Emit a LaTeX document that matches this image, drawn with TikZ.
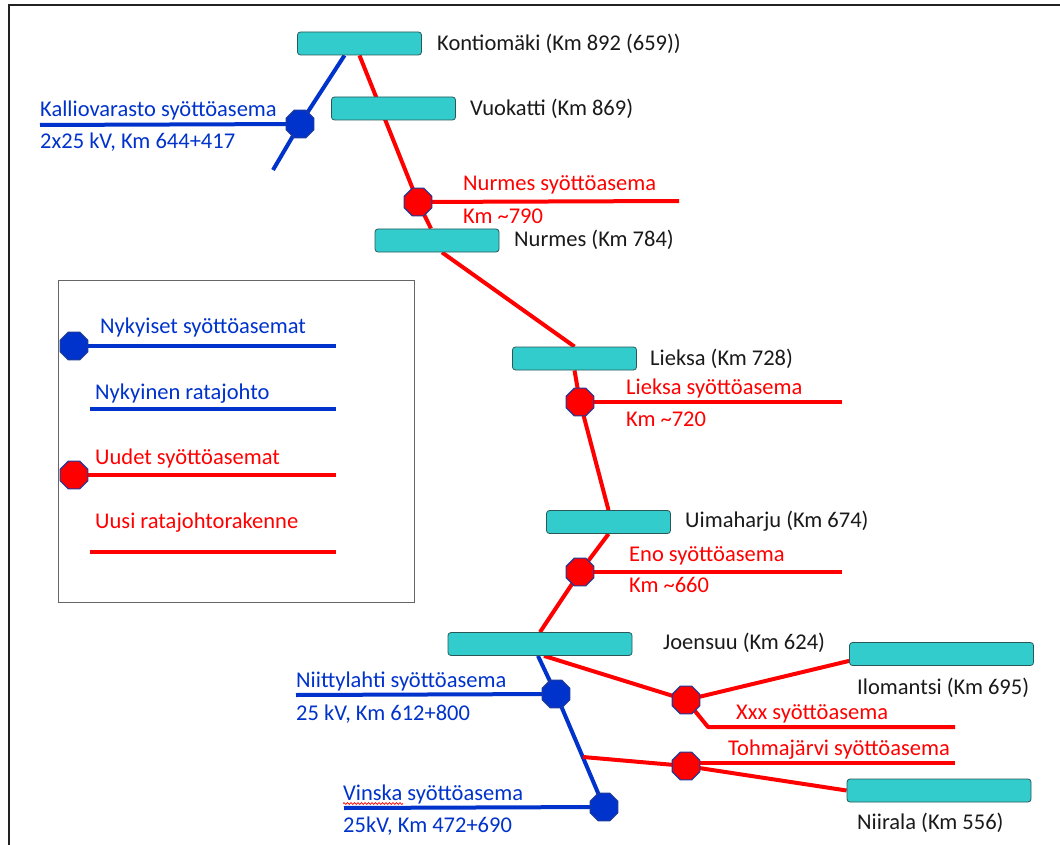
\documentclass[tikz,border=0pt]{standalone}
\usepackage{fontspec}
\setmainfont{Carlito}
\usetikzlibrary{shapes.geometric,calc,decorations.pathmorphing}
\pgfdeclarelayer{bg}
\pgfdeclarelayer{paper}
\pgfsetlayers{paper,bg,main}
\definecolor{tealbox}{HTML}{33CCCC}
\definecolor{tealedge}{HTML}{2A5858}
\definecolor{myred}{HTML}{FF0000}
\definecolor{myblue}{HTML}{0033CC}
\definecolor{ringblue}{HTML}{1F3A99}
\definecolor{txtblack}{HTML}{1A1A1A}
\definecolor{framegray}{HTML}{222222}
\begin{document}
\begin{tikzpicture}[x=1pt,y=-1pt,
  every node/.style={font=\fontsize{22.5}{27}\selectfont},
  station/.style={draw=tealedge, fill=tealbox, rounded corners=3pt, line width=0.8pt,
    minimum width=124pt, minimum height=23pt, inner sep=0pt},
  widestation/.style={station, minimum width=184pt},
  subred/.style={regular polygon, regular polygon sides=8, minimum size=30pt, inner sep=0pt,
    fill=myred, draw=ringblue, line width=1.2pt},
  subblue/.style={subred, fill=myblue},
  redline/.style={draw=myred, line width=4pt, line join=round},
  blueline/.style={draw=myblue, line width=4pt, line join=round},
  lbl/.style={anchor=base west, inner sep=0pt},
  blk/.style={lbl, text=txtblack},
  bluetxt/.style={lbl, text=myblue},
  redtxt/.style={lbl, text=myred}
]
\useasboundingbox (0,0) rectangle (1060,845);
\begin{pgfonlayer}{paper}
  \fill[white] (0,0) rectangle (1060,845);
\end{pgfonlayer}
\draw[line width=2pt, color=framegray] (8.5,845) -- (8.5,5.5) -- (1060,5.5);

% stations
\node[station] (kont) at (359.5,43.5) {};
\node[station] (vuok) at (393.5,108.5) {};
\node[station] (nurm) at (437,240.5) {};
\node[station] (lieksa) at (574.5,358.5) {};
\node[station] (uima) at (608.5,522) {};
\node[widestation] (joen) at (540,644) {};
\node[widestation] (ilom) at (941.5,654) {};
\node[widestation] (niir) at (939,790.5) {};

% substations
\node[subblue] (kall) at (300,124) {};
\node[subred] (nsub) at (418,202) {};
\node[subred] (lsub) at (580,402) {};
\node[subred] (esub) at (580,572) {};
\node[subblue] (niit) at (556,694) {};
\node[subblue] (vins) at (604,807) {};
\node[subred] (xsub) at (686,700) {};
\node[subred] (tsub) at (686,766) {};

% free ends
\coordinate (kalltail) at (273,170);
\coordinate (kallend) at (40,125);
\coordinate (nend) at (679,201);
\coordinate (lend) at (842,402);
\coordinate (eend) at (842,572);
\coordinate (niitend) at (296,695);
\coordinate (vinsend) at (344,808);
\coordinate (xbend) at (708,727);
\coordinate (xend) at (955,727);
\coordinate (tstart) at (583,757);
\coordinate (tend) at (955,763);

\begin{pgfonlayer}{bg}
  \draw[redline] (kont.south) -- (nsub.center) -- ($(nurm.north)+(-6,0)$);
  \draw[redline] ($(nurm.south)+(5,0)$) -- (lieksa.north);
  \draw[redline] (lieksa.south) -- (lsub.center) -- (uima.north);
  \draw[redline] (uima.south) -- (esub.center) -- (joen.north);
  \draw[redline] (nsub.center) -- (nend);
  \draw[redline] (lsub.center) -- (lend);
  \draw[redline] (esub.center) -- (eend);
  \draw[blueline] ($(kont.south)+(-15,0)$) -- (kall.center) -- (kalltail);
  \draw[blueline] (kall.center) -- (kallend);
  \draw[blueline] ($(joen.south)+(-2,0)$) -- (niit.center) -- (vins.center);
  \draw[blueline] (niit.center) -- (niitend);
  \draw[blueline] (vins.center) -- (vinsend);
  \draw[redline] ($(joen.south)+(4,0)$) -- (xsub.center) -- ($(ilom.south west)+(0,-5)$);
  \draw[redline] (xsub.center) -- (xbend) -- (xend);
  \draw[redline] (tstart) -- (tsub.center) -- (niir.west);
  \draw[redline] ($(tsub.center)+(0,-3)$) -- (tend);
\end{pgfonlayer}

% station labels
\node[blk] (tkont) at (437,50.5) {Kontiomäki (Km 892 (659))};
\node[blk] (tvuok) at (470,116) {Vuokatti (Km 869)};
\node[blk] (tnurm) at (514,247) {Nurmes (Km 784)};
\node[blk] (tlieksa) at (650,365) {Lieksa (Km 728)};
\node[blk] (tuima) at (685,527.5) {Uimaharju (Km 674)};
\node[blk] (tjoen) at (663,649) {Joensuu (Km 624)};
\node[blk] (tilom) at (857,694) {Ilomantsi (Km 695)};
\node[blk] (tniir) at (857,829) {Niirala (Km 556)};

% substation labels
\node[bluetxt] (tkall1) at (40,116.5) {Kalliovarasto syöttöasema};
\node[bluetxt] (tkall2) at (40,149) {2x25 kV, Km 644+417};
\node[redtxt] (tnsub1) at (463,191) {Nurmes syöttöasema};
\node[redtxt] (tnsub2) at (463,223) {Km \textasciitilde790};
\node[redtxt] (tlsub1) at (626,394) {Lieksa syöttöasema};
\node[redtxt] (tlsub2) at (626,426) {Km \textasciitilde720};
\node[redtxt] (tesub1) at (629,561) {Eno syöttöasema};
\node[redtxt] (tesub2) at (629,592) {Km \textasciitilde660};
\node[bluetxt] (tniit1) at (296,687) {Niittylahti syöttöasema};
\node[bluetxt] (tniit2) at (296,720) {25 kV, Km 612+800};
\node[bluetxt] (tvins1) at (343,800) {Vinska syöttöasema};
\node[bluetxt] (tvins2) at (343,832) {25kV, Km 472+690};
\node[redtxt] (txsub) at (736,719) {Xxx syöttöasema};
\node[redtxt] (ttsub) at (728,755) {Tohmajärvi syöttöasema};
\draw[myred, line width=0.7pt, decorate, decoration={snake, amplitude=0.9pt, segment length=3.5pt}]
  ($(tvins1.base west)+(0,3.5)$) -- ++(60,0);

% legend
\node[draw=gray!80!black, line width=1pt, minimum width=356pt, minimum height=322pt, inner sep=0pt] (legend) at (236,441) {};
\node[subblue] (lgb) at (74,346) {};
\node[subred] (lgr) at (74,475) {};
\coordinate (lg1end) at (336,346);
\coordinate (lg2a) at (90,409);
\coordinate (lg2b) at (336,409);
\coordinate (lg3end) at (336,475);
\coordinate (lg4a) at (90,552);
\coordinate (lg4b) at (336,552);
\begin{pgfonlayer}{bg}
  \draw[blueline] (lgb.center) -- (lg1end);
  \draw[blueline] (lg2a) -- (lg2b);
  \draw[redline] (lgr.center) -- (lg3end);
  \draw[redline] (lg4a) -- (lg4b);
\end{pgfonlayer}
\node[bluetxt] (tl1) at (100,333) {Nykyiset syöttöasemat};
\node[bluetxt] (tl2) at (95,399) {Nykyinen ratajohto};
\node[redtxt] (tl3) at (95,464) {Uudet syöttöasemat};
\node[redtxt] (tl4) at (95,528) {Uusi ratajohtorakenne};
\end{tikzpicture}
\end{document}
